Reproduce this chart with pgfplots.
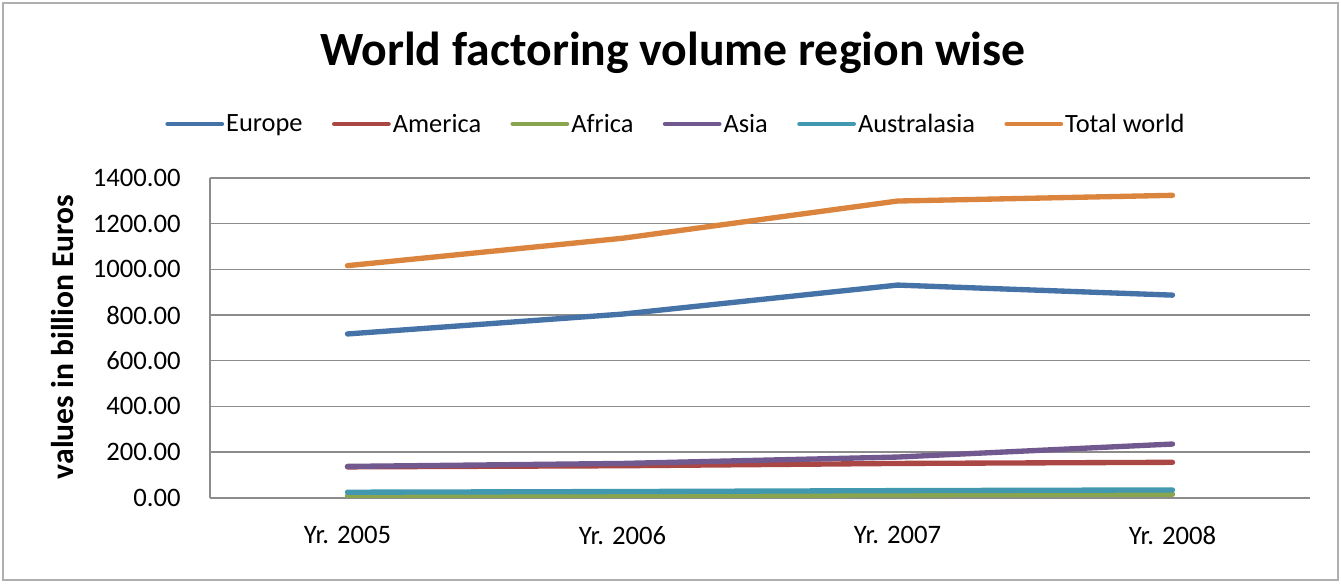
\documentclass[border=0pt]{standalone}
\usepackage{pgfplots}
\pgfplotsset{compat=1.18}
\usepackage{fontspec}
\setmainfont{Carlito}
\definecolor{cEur}{HTML}{4572A7}
\definecolor{cAme}{HTML}{AA4643}
\definecolor{cAfr}{HTML}{89A54E}
\definecolor{cAsi}{HTML}{71588F}
\definecolor{cAus}{HTML}{4198AF}
\definecolor{cTot}{HTML}{DB843D}
\definecolor{gridc}{HTML}{8C8C8C}
\begin{document}
\begin{tikzpicture}
\path[use as bounding box] (0pt,0pt) rectangle (1005.75pt,437.25pt);
\draw[color=gridc!70, line width=1.2pt] (2.25pt,2.25pt) rectangle (1003.5pt,435pt);
\node[font=\bfseries\fontsize{35.8}{42}\selectfont, anchor=base] at (504.75pt,388pt) {World factoring volume region wise};
\begin{axis}[
  at={(157.5pt,63.975pt)}, anchor=south west,
  scale only axis, width=825pt, height=239.8pt,
  xmin=-0.5, xmax=3.5, ymin=0, ymax=1400,
  xtick={0,1,2,3}, xticklabels={Yr. 2005,Yr. 2006,Yr. 2007,Yr. 2008},
  ytick={0,200,...,1400},
  major tick length=0pt,
  ymajorgrids, grid style={gridc, line width=1.2pt},
  axis x line*=bottom, axis y line*=left,
  axis line style={gridc, line width=1.2pt, -},
  /pgf/number format/.cd, fixed, zerofill, precision=2, 1000 sep={}, assume math mode=true,
  /pgfplots/.cd,
  tick label style={font=\fontsize{20}{24}\selectfont, text=black},
  yticklabel style={xshift=-18.5pt},
  xticklabel style={yshift=-18pt},
  ylabel={values in billion Euros},
  ylabel style={font=\bfseries\fontsize{23.7}{28}\selectfont, at={(axis description cs:-0.1345,0.5027)}, anchor=center},
  legend columns=6,
  legend style={at={(axis description cs:0.4236,1.169)}, anchor=center, draw=none, fill=none,
    font=\fontsize{19.8}{24}\selectfont, inner sep=0pt,
    nodes={inner sep=1.5pt},
    /tikz/every even column/.append style={column sep=20.5pt}},
  legend image code/.code={\draw[#1, line width=3.6pt, line cap=round] (0pt,0pt) -- (40.5pt,0pt);},
  every axis plot/.append style={line width=4pt, line cap=round, line join=round, mark=none},
]
\addplot[cEur] coordinates {(0,717) (1,804) (2,931) (3,887)};
\addlegendentry{Europe}
\addplot[cAme] coordinates {(0,135) (1,140) (2,150) (3,155)};
\addlegendentry{America}
\addplot[cAfr] coordinates {(0,8) (1,9) (2,12) (3,15)};
\addlegendentry{Africa}
\addplot[cAsi] coordinates {(0,137) (1,150) (2,178) (3,235)};
\addlegendentry{Asia}
\addplot[cAus] coordinates {(0,24) (1,27) (2,31) (3,34)};
\addlegendentry{Australasia}
\addplot[cTot] coordinates {(0,1016) (1,1136) (2,1299) (3,1324)};
\addlegendentry{Total world}
\end{axis}
\end{tikzpicture}
\end{document}
